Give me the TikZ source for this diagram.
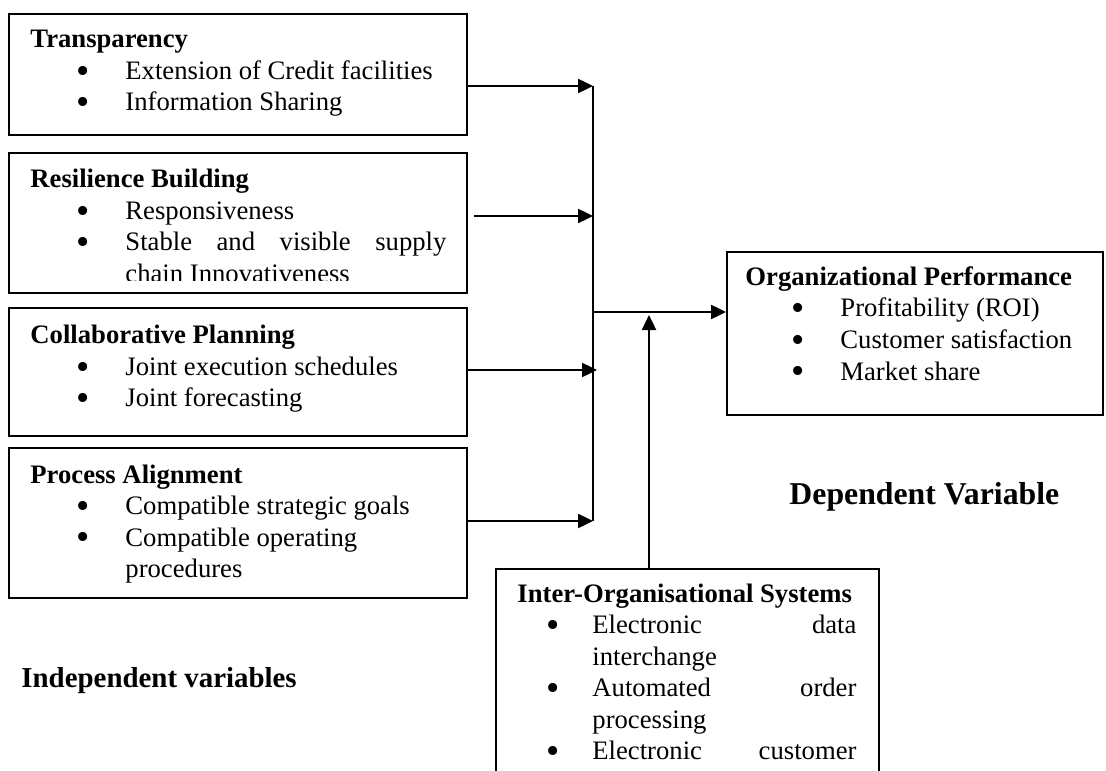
\documentclass[tikz,border=0pt]{standalone}
\usepackage{fontspec}
\usepackage{graphicx}
\setmainfont{Liberation Serif}
\usetikzlibrary{arrows.meta}
\newdimen\bulpos \newdimen\txtind
\bulpos=20.85pt \txtind=42.75pt
\newcommand\bitem{\par\hangindent=\txtind\hangafter=1\noindent\makebox[\txtind][l]{\hspace*{\bulpos}\smash{\raisebox{-0.14em}{\scalebox{1.42}{\textbullet}}}}\ignorespaces}
\tolerance=10000 \hbadness=10000 \hyphenpenalty=10000 \exhyphenpenalty=10000
\begin{document}
\begin{tikzpicture}[x=0.45pt,y=-0.45pt,line join=miter,>={Triangle[length=6.75pt,width=6.3pt]},
varbox/.style={draw,line width=0.9pt,anchor=north west,inner sep=0pt},
vartext/.style={anchor=north west,inner sep=0pt,text width=#1,align=justify,font=\fontsize{12}{14.2}\selectfont},
vartext/.default=187.2pt,
link/.style={->,line width=1.1pt},
heading/.style={anchor=base west,inner sep=0pt,font=\bfseries\fontsize{14.3}{16}\selectfont}]
\useasboundingbox (0,0) rectangle (1106,771);
\clip (0,0) rectangle (1106,771);
\node[varbox,minimum width=206.1pt,minimum height=54.45pt] (trans) at (8,13) {};
\node[varbox,minimum width=206.1pt,minimum height=63pt] (resil) at (8,152) {};
\node[varbox,minimum width=206.1pt,minimum height=57.6pt] (collab) at (8,307) {};
\node[varbox,minimum width=206.1pt,minimum height=67.5pt] (proc) at (8,447) {};
\node[varbox,minimum width=169.2pt,minimum height=73.35pt] (org) at (726,251) {};
\node[varbox,minimum width=172.35pt,minimum height=104.4pt] (inter) at (495,568) {};
\node[vartext] (transtxt) at ([shift={(22,12.2)}]trans.north west)
 {\strut\textbf{Transparency}\bitem Extension of Credit facilities\bitem Information Sharing\par};
\begin{scope}
\clip (resil.north west) rectangle ([shift={(0,-14)}]resil.south east);
\node[vartext] (resiltxt) at ([shift={(22,13.2)}]resil.north west)
 {\strut\textbf{Resilience Building}\bitem Responsiveness\bitem Stable and visible supply\linebreak chain Innovativeness\par};
\end{scope}
\node[vartext] (collabtxt) at ([shift={(22,14.2)}]collab.north west)
 {\strut\textbf{Collaborative Planning}\bitem Joint execution schedules\bitem Joint forecasting\par};
\node[vartext] (proctxt) at ([shift={(22,13.6)}]proc.north west)
 {\strut\textbf{Process Alignment}\bitem Compatible strategic goals\bitem Compatible operating\newline procedures\par};
\node[vartext=151.65pt] (orgtxt) at ([shift={(19,11.9)}]org.north west)
 {\strut\textbf{Organizational Performance}\bitem Profitability (ROI)\bitem Customer satisfaction\bitem Market share\par};
\node[vartext=152.55pt] (intertxt) at ([shift={(22,11.6)}]inter.north west)
 {\bulpos=13.2pt\txtind=33.75pt\strut\textbf{Inter-Organisational Systems}\bitem Electronic data\linebreak interchange\bitem Automated order\linebreak processing\bitem Electronic customer\parfillskip=0pt\par};
\coordinate (j1) at (593,86);
\coordinate (j2) at (593,216);
\coordinate (j3) at (597,370);
\coordinate (j4) at (593,521);
\coordinate (jout) at (593,312);
\coordinate (jup) at (649,315);
\draw[line width=0.9pt] (j1) -- (j4);
\draw[link] (trans.east |- j1) -- (j1);
\draw[link,shorten <=2.7pt] (resil.east |- j2) -- (j2);
\draw[link] (collab.east |- j3) -- (j3);
\draw[link] (proc.east |- j4) -- (j4);
\draw[link] (jout) -- (org.west |- jout);
\draw[link] (inter.north -| jup) -- (jup);
\node[heading] (dep) at (789,504) {Dependent Variable};
\node[heading,font=\bfseries\fontsize{13}{15}\selectfont] (indep) at (21,687) {Independent variables};
\end{tikzpicture}
\end{document}
